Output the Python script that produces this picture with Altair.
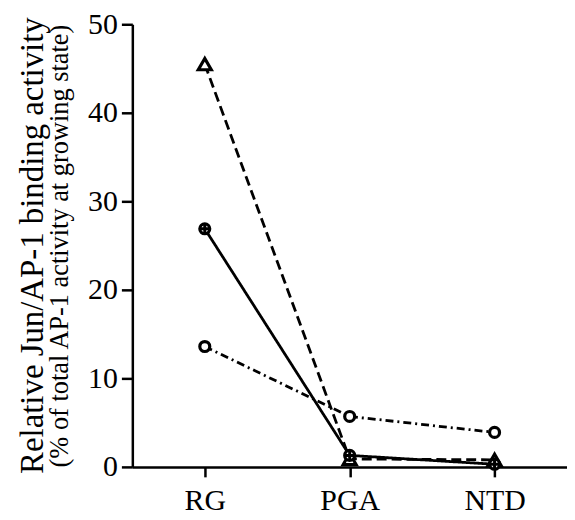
import altair as alt
import pandas as pd

conditions = ["RG", "PGA", "NTD"]
series_names = ["triangle", "crossed", "open"]
triangle_vals = [45.5, 0.9, 0.8]
crossed_vals = [26.9, 1.3, 0.3]
open_vals = [13.6, 5.7, 3.9]
y_ticks = [0, 10, 20, 30, 40, 50]
main_title = "Relative Jun/AP-1 binding activity"
sub_title = "(% of total AP-1 activity at growing state)"

rows = []
for s, vals in zip(series_names, [triangle_vals, crossed_vals, open_vals]):
    for c, v in zip(conditions, vals):
        rows.append({"condition": c, "series": s, "value": v})
df = pd.DataFrame(rows)

FONT = "Liberation Serif"

x_enc = alt.X(
    "condition:N",
    sort=conditions,
    scale=alt.Scale(type="point", padding=0.5),
    axis=alt.Axis(title=None, labelAngle=0, tickSize=10, labelPadding=9),
)
y_enc = alt.Y(
    "value:Q",
    scale=alt.Scale(domain=[0, 50], nice=False),
    axis=alt.Axis(
        title=sub_title, values=y_ticks, grid=False, tickSize=11, labelPadding=4,
        titleFont=FONT, titleFontSize=26.5, titleFontWeight="normal",
        titleColor="black", titlePadding=14,
    ),
)

base = alt.Chart(df)

lines = base.mark_line(color="black", strokeWidth=2.8).encode(
    x=x_enc,
    y=y_enc,
    detail="series:N",
    strokeDash=alt.StrokeDash(
        "series:N",
        scale=alt.Scale(domain=series_names, range=[[10, 5], [1, 0], [8, 4, 2, 4]]),
        legend=None,
    ),
)

tri_pts = base.transform_filter(alt.datum.series == "triangle").mark_point(
    shape="triangle-up", size=170, fill="white", stroke="black",
    strokeWidth=3.2, filled=True, opacity=1, fillOpacity=1,
).encode(x=x_enc, y=y_enc)

circ_pts = base.transform_filter(alt.datum.series != "triangle").mark_point(
    shape="circle", size=100, fill="white", stroke="black",
    strokeWidth=3.2, filled=True, opacity=1, fillOpacity=1,
).encode(x=x_enc, y=y_enc)

cross_pts = base.transform_filter(alt.datum.series == "crossed").mark_point(
    shape="M-1,0L1,0M0,-1L0,1", size=100, stroke="black",
    strokeWidth=3, filled=False, opacity=1,
).encode(x=x_enc, y=y_enc)

chart = (
    alt.layer(lines, tri_pts, circ_pts, cross_pts)
    .properties(
        width=437,
        height=445,
        autosize=alt.AutoSizeParams(type="none"),
        padding={"left": 125, "top": 15, "right": 0, "bottom": 50},
        title=alt.TitleParams(
            text=main_title,
            orient="left",
            anchor="middle",
            font=FONT,
            fontSize=33,
            fontWeight="normal",
            color="black",
            offset=-3,
        ),
    )
    .configure_view(stroke=None)
    .configure_axis(
        domainColor="black",
        domainWidth=2.5,
        tickColor="black",
        tickWidth=2.5,
        labelFont=FONT,
        labelFontSize=30,
        labelColor="black",
    )
)

chart.save("out.html", embed_options={"renderer": "svg", "actions": False})
